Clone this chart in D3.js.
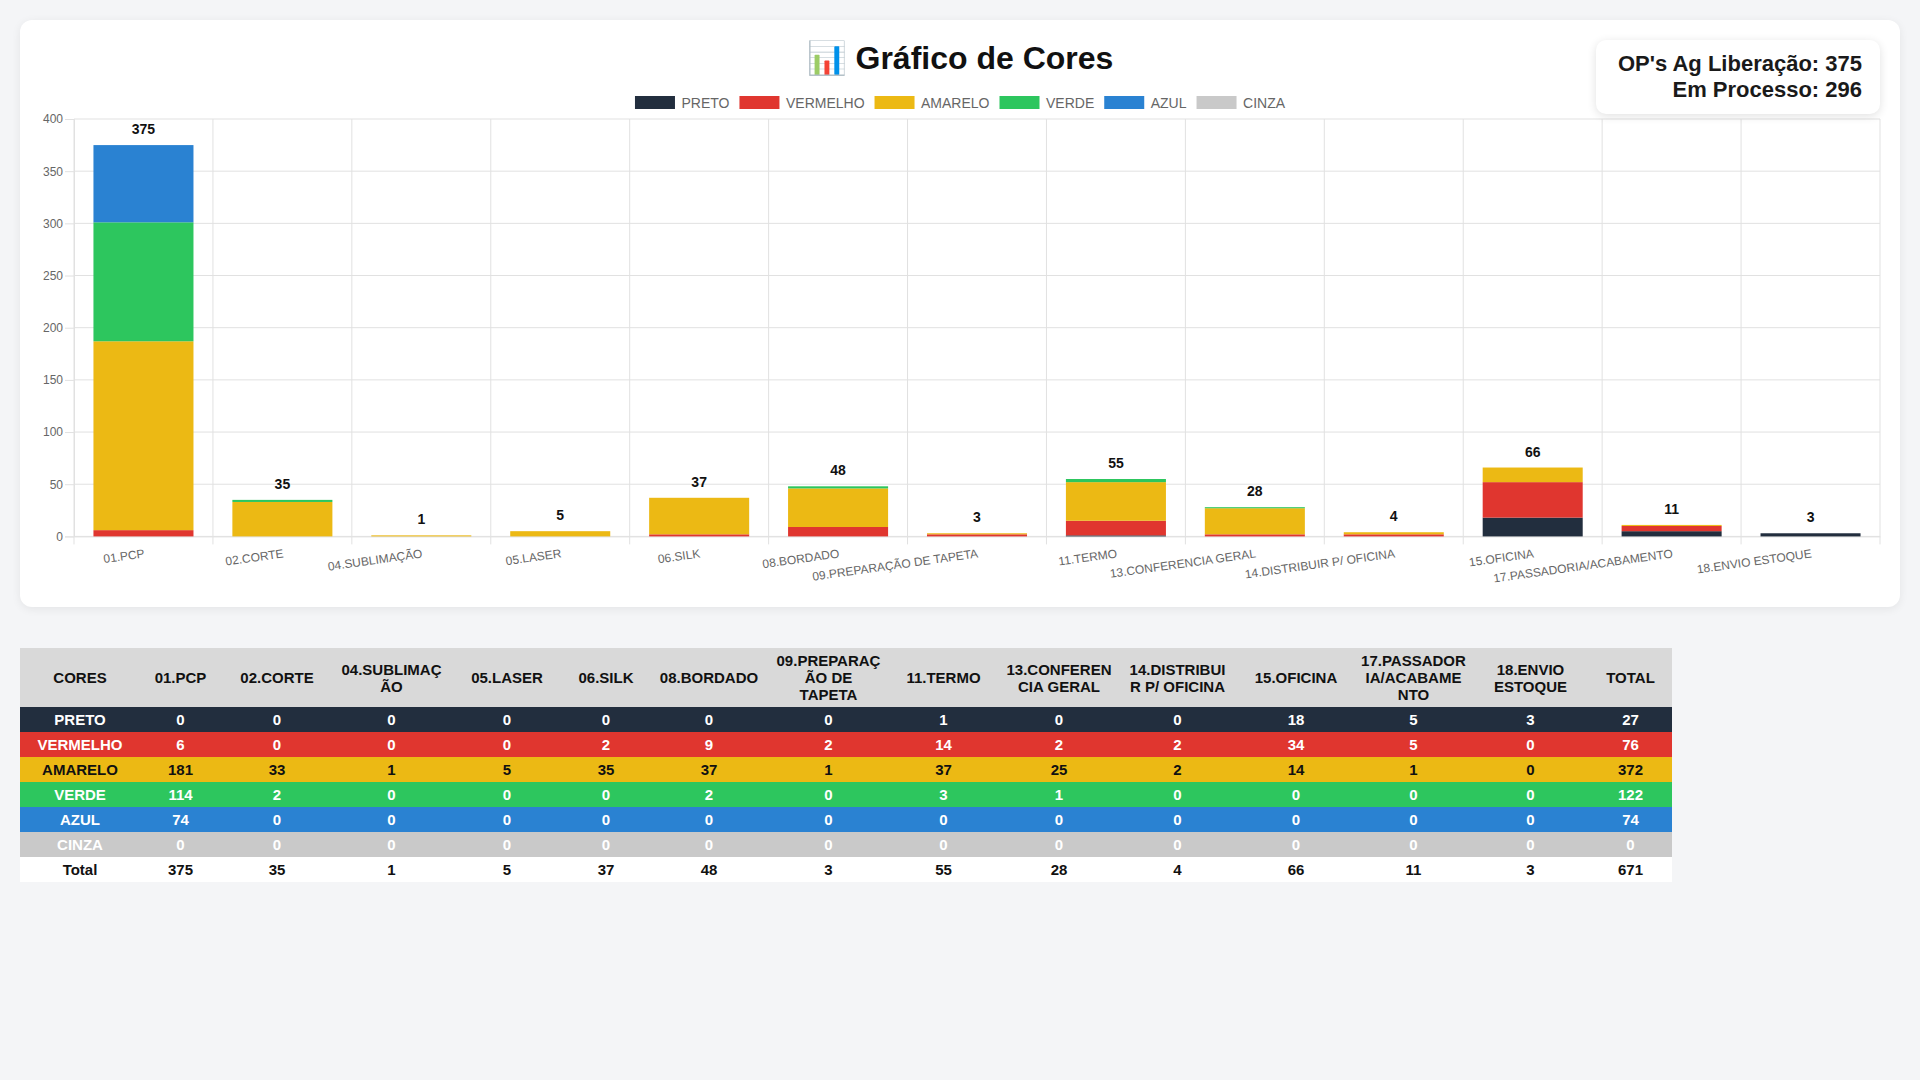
<!DOCTYPE html>
<html>
<head>
<meta charset="utf-8">
<script src="https://cdn.jsdelivr.net/npm/d3@7"></script>
<style>
html,body{margin:0;padding:0;background:#f4f5f7;width:1920px;height:1080px;overflow:hidden;font-family:"Liberation Sans",Arial,Helvetica,sans-serif;}
#card{position:absolute;left:20px;top:20px;width:1880px;height:587px;background:#fff;border-radius:12px;box-shadow:0 2px 10px rgba(0,0,0,0.07);}
#chart{position:absolute;left:0;top:0;}
#opbox{position:absolute;left:1596px;top:40px;width:248px;height:52px;padding:11px 18px 11px 18px;background:#fff;border-radius:10px;box-shadow:0 2px 10px rgba(0,0,0,0.12);text-align:right;font-size:22px;font-weight:bold;line-height:26px;color:#1a1a1a;}
#tbl{position:absolute;left:20px;top:648px;border-collapse:collapse;table-layout:fixed;font-size:15px;font-weight:bold;}
#tbl th,#tbl td{padding:4px 4px;text-align:center;vertical-align:middle;line-height:17px;overflow:hidden;}
#tbl th{background:#d9d9d9;color:#111;}
</style>
</head>
<body>
<div id="card"></div>
<svg id="chart" width="1920" height="620"></svg>
<div id="opbox"></div>
<table id="tbl"></table>
<script>
// ---------- DATA ----------
const categories = ["01.PCP","02.CORTE","04.SUBLIMAÇÃO","05.LASER","06.SILK","08.BORDADO","09.PREPARAÇÃO DE TAPETA","11.TERMO","13.CONFERENCIA GERAL","14.DISTRIBUIR P/ OFICINA","15.OFICINA","17.PASSADORIA/ACABAMENTO","18.ENVIO ESTOQUE"];
const seriesNames = ["PRETO","VERMELHO","AMARELO","VERDE","AZUL","CINZA"];
const seriesColors = ["#222e3e","#e0362f","#ecb914","#2dc65e","#2a82d2","#c9c9c9"];
const preto    = [0,0,0,0,0,0,0,1,0,0,18,5,3];
const vermelho = [6,0,0,0,2,9,2,14,2,2,34,5,0];
const amarelo  = [181,33,1,5,35,37,1,37,25,2,14,1,0];
const verde    = [114,2,0,0,0,2,0,3,1,0,0,0,0];
const azul     = [74,0,0,0,0,0,0,0,0,0,0,0,0];
const cinza    = [0,0,0,0,0,0,0,0,0,0,0,0,0];
const yTicks = [0,50,100,150,200,250,300,350,400];
const titleText = "📊 Gráfico de Cores";
const opAgLiberacao = 375;
const emProcesso = 296;
const tableHeaderLines = [["CORES"],["01.PCP"],["02.CORTE"],["04.SUBLIMAÇ","ÃO"],["05.LASER"],["06.SILK"],["08.BORDADO"],["09.PREPARAÇ","ÃO DE","TAPETA"],["11.TERMO"],["13.CONFEREN","CIA GERAL"],["14.DISTRIBUI","R P/ OFICINA"],["15.OFICINA"],["17.PASSADOR","IA/ACABAME","NTO"],["18.ENVIO","ESTOQUE"],["TOTAL"]];
const tableTextColors = ["#fff","#fff","#111","#fff","#fff","#fff"];

(function(){
// ---------- CHART ----------
const seriesValues = [preto,vermelho,amarelo,verde,azul,cinza];
const rows = categories.map((c,i)=>{
  const r = {cat:c};
  seriesNames.forEach((s,k)=>{ r[s] = seriesValues[k][i]; });
  r.total = d3.sum(seriesValues, v=>v[i]);
  return r;
});

const svg = d3.select("#chart");
const pL = 74, pR = 1880, pT = 119, pB = 536.4;
const x = d3.scaleBand().domain(categories).range([pL,pR]).paddingInner(0.28).paddingOuter(0.14);
const y = d3.scaleLinear().domain([0,400]).range([pB,pT]);
const step = x.step();
const color = d3.scaleOrdinal().domain(seriesNames).range(seriesColors);
const gridColor = "#e1e1e1";
const font = '"Liberation Sans",Arial,Helvetica,sans-serif';

// title
svg.append("text").attr("x",960).attr("y",69).attr("text-anchor","middle")
  .attr("font-family",font).attr("font-size",32).attr("font-weight","bold").attr("fill","#111")
  .text(titleText);

// legend
const lg = svg.append("g");
const items = lg.selectAll("g").data(seriesNames).enter().append("g");
items.append("rect").attr("width",40).attr("height",13).attr("y",96).attr("fill",d=>color(d));
items.append("text").attr("x",46.5).attr("y",102.5).attr("dominant-baseline","central")
  .attr("font-family",font).attr("font-size",14).attr("fill","#666").text(d=>d);
const widths = [];
items.each(function(){ widths.push(46.5 + this.querySelector("text").getComputedTextLength()); });
const gap = 10;
const totalW = d3.sum(widths) + gap*(widths.length-1);
let cx = 960 - totalW/2;
items.each(function(d,i){ d3.select(this).attr("transform",`translate(${cx},0)`); cx += widths[i] + gap; });

// horizontal grid
svg.append("g").selectAll("line").data(yTicks).enter().append("line")
  .attr("x1",pL).attr("x2",pR).attr("y1",d=>y(d)).attr("y2",d=>y(d))
  .attr("stroke",gridColor).attr("stroke-width",1);
// vertical grid at category boundaries
const bounds = categories.map(c=>x(c) - step*0.14).concat([pR]);
svg.append("g").selectAll("line").data(bounds).enter().append("line")
  .attr("x1",d=>d).attr("x2",d=>d).attr("y1",pT).attr("y2",pB+8)
  .attr("stroke",gridColor).attr("stroke-width",1);

// y axis
const yAxis = svg.append("g").attr("transform",`translate(${pL},0)`)
  .call(d3.axisLeft(y).tickValues(yTicks).tickSize(9).tickPadding(2));
yAxis.select(".domain").attr("stroke",gridColor);
yAxis.selectAll(".tick line").attr("stroke",gridColor);
yAxis.selectAll(".tick text").attr("font-family",font).attr("font-size",12).attr("fill","#666");

// x axis
const xAxis = svg.append("g").attr("transform",`translate(0,${pB})`)
  .call(d3.axisBottom(x).tickSize(0));
xAxis.select(".domain").attr("stroke",gridColor);
xAxis.selectAll(".tick text").attr("font-family",font).attr("font-size",12).attr("fill","#666")
  .attr("text-anchor","end").attr("x",1).attr("y",17).attr("dy",null)
  .attr("dominant-baseline","central").attr("transform","rotate(-8,1,17)");

// stacked bars
const stacked = d3.stack().keys(seriesNames)(rows);
svg.append("g").selectAll("g").data(stacked).enter().append("g")
  .attr("fill",d=>color(d.key))
  .selectAll("rect").data(d=>d).enter().append("rect")
  .attr("x",d=>x(d.data.cat)).attr("width",x.bandwidth())
  .attr("y",d=>y(d[1])).attr("height",d=>Math.max(0,y(d[0])-y(d[1])));

// totals
svg.append("g").selectAll("text").data(rows).enter().append("text")
  .attr("x",d=>x(d.cat)+x.bandwidth()/2).attr("y",d=>y(d.total)-16)
  .attr("text-anchor","middle").attr("dominant-baseline","central")
  .attr("font-family",font).attr("font-size",14).attr("font-weight","bold").attr("fill","#111")
  .text(d=>d.total);

// OP box
d3.select("#opbox").html(`OP's Ag Liberação: ${opAgLiberacao}<br>Em Processo: ${emProcesso}`);

// ---------- TABLE ----------
const colWidths = [120,81,112,117,114,84,122,117,113,118,119,118,117,117,83];
const tbl = d3.select("#tbl").style("width", d3.sum(colWidths)+"px");
const cg = tbl.append("colgroup");
colWidths.forEach(w=>cg.append("col").style("width",w+"px"));
const hr = tbl.append("thead").append("tr");
tableHeaderLines.forEach(lines=>{
  const th = hr.append("th");
  lines.forEach((l,i)=>{ if(i>0) th.append("br"); th.append("span").text(l); });
});
const tb = tbl.append("tbody");
seriesNames.forEach((s,k)=>{
  const tr = tb.append("tr").style("background",seriesColors[k]).style("color",tableTextColors[k]);
  tr.append("td").text(s);
  seriesValues[k].forEach(v=>tr.append("td").text(v));
  tr.append("td").text(d3.sum(seriesValues[k]));
});
const trT = tb.append("tr").style("background","#fff").style("color","#111");
trT.append("td").text("Total");
rows.forEach(r=>trT.append("td").text(r.total));
trT.append("td").text(d3.sum(rows,r=>r.total));
})();
</script>
</body>
</html>
